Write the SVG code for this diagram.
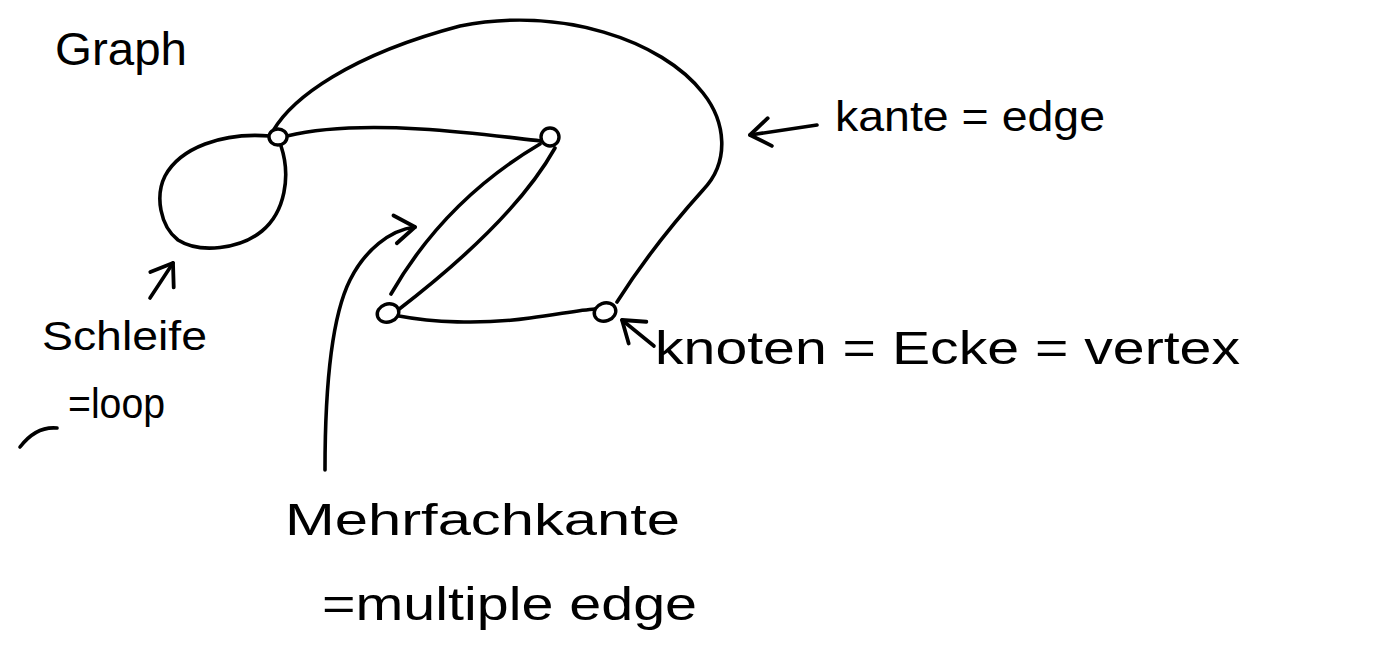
<svg xmlns="http://www.w3.org/2000/svg" width="1383" height="653" viewBox="0 0 1383 653">
  <style>
    .bg { fill: #ffffff; }
    .edge { fill: none; stroke: #000; stroke-width: 3.6; stroke-linecap: round; stroke-linejoin: round; }
    .ann { fill: none; stroke: #000; stroke-width: 3.6; stroke-linecap: round; stroke-linejoin: round; }
    .vertex { fill: #ffffff; stroke: #000; stroke-width: 3.4; }
    .hand { font-family: "Liberation Sans", "DejaVu Sans", sans-serif; fill: #000; }
  </style>
  <defs>
    <marker id="chev" viewBox="-28 -18 32 36" refX="0" refY="0" markerWidth="32" markerHeight="36" markerUnits="userSpaceOnUse" orient="auto">
      <path d="M-20,-14 L0,0 L-20,14" fill="none" stroke="#000" stroke-width="3.8" stroke-linecap="round" stroke-linejoin="round"/>
    </marker>
  </defs>
  <rect class="bg" x="0" y="0" width="1383" height="653"/>

  <g id="connectors">
    <!-- big top arc from A to D -->
    <path class="edge" d="M273,131 C292,98 350,55 460,26 C560,6 662,40 703,93 C726,122 730,162 703,190 C685,210 650,250 617,302"/>
    <!-- A to B -->
    <path class="edge" d="M287,136 C320,128 370,126 420,129 C470,132 505,137 541,141"/>
    <!-- loop at A -->
    <path class="edge" d="M281,146 C291,176 285,212 262,231 C240,249 200,254 178,240 C160,226 155,196 165,176 C180,148 222,132 270,136"/>
    <!-- B to C (upper, not touching C) -->
    <path class="edge" d="M540,144 Q445,200 391,294"/>
    <!-- B to C (lower) -->
    <path class="edge" d="M555,148 Q514,221 398,310"/>
    <!-- C to D -->
    <path class="edge" d="M399,316 C430,322 480,325 530,318 C560,314 580,310 595,309"/>
  </g>

  <g id="vertex-a"><ellipse class="vertex" cx="278" cy="137" rx="9" ry="8"/></g>
  <g id="vertex-b"><ellipse class="vertex" cx="550" cy="137" rx="9" ry="9"/></g>
  <g id="vertex-c"><ellipse class="vertex" cx="388" cy="313" rx="11" ry="9" transform="rotate(-20 388 313)"/></g>
  <g id="vertex-d"><ellipse class="vertex" cx="605" cy="312" rx="11" ry="9" transform="rotate(-20 605 312)"/></g>

  <g id="annotation-arrows">
    <path class="ann" d="M817,125 L750,135" marker-end="url(#chev)"/>
    <path class="ann" d="M150,298 L173,263" marker-end="url(#chev)"/>
    <path class="ann" d="M654,346 L622,320" marker-end="url(#chev)"/>
    <path class="ann" d="M325,470 C325,400 330,320 350,280 C365,250 390,230 415,227" marker-end="url(#chev)"/>
    <path class="ann" d="M20,447 Q36,426 57,428"/>
  </g>

  <g id="label-graph"><text class="hand" x="55" y="65" font-size="46" textLength="132" lengthAdjust="spacingAndGlyphs">Graph</text></g>
  <g id="label-kante"><text class="hand" x="835" y="131" font-size="42" textLength="270" lengthAdjust="spacingAndGlyphs">kante = edge</text></g>
  <g id="label-knoten"><text class="hand" x="655" y="364" font-size="46" textLength="585" lengthAdjust="spacingAndGlyphs">knoten = Ecke = vertex</text></g>
  <g id="label-schleife">
    <text class="hand" x="42" y="350" font-size="40" textLength="165" lengthAdjust="spacingAndGlyphs">Schleife</text>
    <text class="hand" x="68" y="418" font-size="42" textLength="97" lengthAdjust="spacingAndGlyphs">=loop</text>
  </g>
  <g id="label-mehrfach">
    <text class="hand" x="285" y="535" font-size="44" textLength="395" lengthAdjust="spacingAndGlyphs">Mehrfachkante</text>
    <text class="hand" x="322" y="620" font-size="46" textLength="375" lengthAdjust="spacingAndGlyphs">=multiple edge</text>
  </g>
</svg>
